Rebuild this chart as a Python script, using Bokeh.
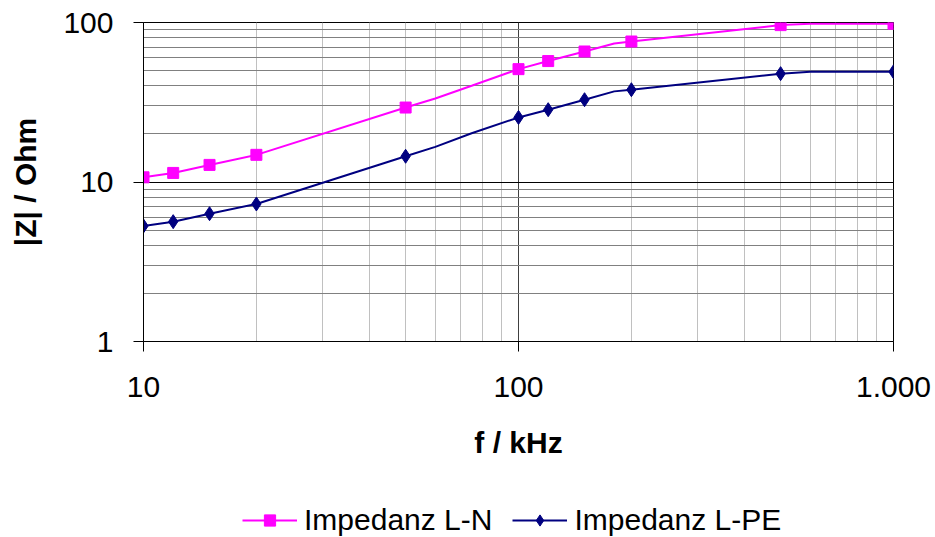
from bokeh.plotting import figure
from bokeh.layouts import column
from bokeh.models import Range1d, FixedTicker, Legend, LegendItem
from bokeh.embed import file_html
from bokeh.resources import INLINE

# ---- data ----
freq_khz = [10, 12, 15, 20, 50, 60, 75, 100, 120, 150, 180, 200, 500, 600, 1000]
z_ln = [10.7, 11.4, 12.8, 14.8, 29.3, 33.4, 40.1, 51.0, 57.3, 65.8, 73.8, 76.0, 96.3, 98.2, 98.2]
z_lpe = [5.3, 5.64, 6.33, 7.28, 14.5, 16.6, 20.2, 25.4, 28.4, 32.8, 37.0, 37.9, 47.8, 49.1, 49.1]
has_marker = [True, True, True, True, True, False, False, True, True, True, False, True, True, False, True]

series_names = ["Impedanz L-N", "Impedanz L-PE"]
x_ticks = [10, 100, 1000]
x_tick_labels = ["10", "100", "1.000"]
y_ticks = [1, 10, 100]
y_tick_labels = ["1", "10", "100"]
x_title = "f / kHz"
y_title = "|Z| / Ohm"

x_minor = [m * d for d in (10, 100) for m in range(2, 10)]
y_minor = [m * d for d in (1, 10) for m in range(2, 10)]

FONT = "Liberation Sans"
C_LN = "#FF00FF"
C_LPE = "#000080"
MAIN_H = 477
LEG_H = 537 - MAIN_H

p = figure(width=935, height=MAIN_H, x_axis_type="log", y_axis_type="log",
           x_range=Range1d(10, 1000), y_range=Range1d(1, 100),
           output_backend="svg", toolbar_location=None,
           min_border_left=143, min_border_right=42,
           min_border_top=22, min_border_bottom=MAIN_H - 341)
p.background_fill_color = "white"
p.border_fill_color = "white"
p.outline_line_color = "black"
p.outline_line_width = 1

xt = FixedTicker(ticks=x_ticks, minor_ticks=x_minor)
yt = FixedTicker(ticks=y_ticks, minor_ticks=y_minor)
p.xaxis.ticker = xt
p.yaxis.ticker = yt
p.xgrid.ticker = xt
p.ygrid.ticker = yt
p.xaxis.major_label_overrides = {t: l for t, l in zip(x_ticks, x_tick_labels)}
p.yaxis.major_label_overrides = {t: l for t, l in zip(y_ticks, y_tick_labels)}

for ax in (p.xaxis, p.yaxis):
    ax.axis_line_color = "black"
    ax.axis_line_width = 1
    ax.major_tick_line_color = "black"
    ax.major_tick_out = 10
    ax.major_tick_in = 0
    ax.minor_tick_out = 0
    ax.minor_tick_in = 0
    ax.major_label_text_font = FONT
    ax.major_label_text_font_size = "30px"
    ax.major_label_text_color = "black"
    ax.axis_label_text_font = FONT
    ax.axis_label_text_font_size = "30px"
    ax.axis_label_text_font_style = "bold"
    ax.axis_label_text_color = "black"

p.xaxis.axis_label = x_title
p.yaxis.axis_label = y_title
p.xaxis.major_label_standoff = 25
p.yaxis.major_label_standoff = 20
p.xaxis.axis_label_standoff = 26
p.yaxis.axis_label_standoff = 18

p.xgrid.grid_line_color = "#404040"
p.xgrid.minor_grid_line_color = "#c0c0c0"
p.ygrid.grid_line_color = "black"
p.ygrid.minor_grid_line_color = "#808080"

mx = [f for f, m in zip(freq_khz, has_marker) if m]
m_ln = [v for v, m in zip(z_ln, has_marker) if m]
m_lpe = [v for v, m in zip(z_lpe, has_marker) if m]

LN_LINE = dict(line_color=C_LN, line_width=2)
LN_MARK = dict(marker="square", size=11, fill_color=C_LN, line_color=C_LN)
LPE_LINE = dict(line_color=C_LPE, line_width=2)
LPE_MARK = dict(marker="diamond", size=14, fill_color=C_LPE, line_color=C_LPE)

p.line(freq_khz, z_ln, **LN_LINE)
p.scatter(mx, m_ln, **LN_MARK)
p.line(freq_khz, z_lpe, **LPE_LINE)
p.scatter(mx, m_lpe, **LPE_MARK)

# ---- legend strip below the chart (frames are aligned by the column) ----
q = figure(width=935, height=LEG_H, x_range=Range1d(0, 1), y_range=Range1d(0, 1),
           output_backend="svg", toolbar_location=None,
           x_axis_location=None, y_axis_location=None,
           min_border_left=143, min_border_right=42, min_border_top=0, min_border_bottom=0)
q.grid.visible = False
q.outline_line_color = None
q.background_fill_color = "white"
q.border_fill_color = "white"
nan = float("nan")
k1 = q.line([nan], [nan], **LN_LINE)
k2 = q.scatter([nan], [nan], **LN_MARK)
k3 = q.line([nan], [nan], **LPE_LINE)
k4 = q.scatter([nan], [nan], **LPE_MARK)

legend = Legend(items=[LegendItem(label=series_names[0], renderers=[k1, k2]),
                       LegendItem(label=series_names[1], renderers=[k3, k4])],
                orientation="horizontal", location=(99, 0),
                padding=0, margin=0, spacing=20, label_standoff=7,
                glyph_width=55, glyph_height=28,
                border_line_color=None, background_fill_alpha=0,
                label_text_font=FONT, label_text_font_size="30px",
                label_text_color="black")
q.add_layout(legend)

open("out.html", "w").write(file_html(column(p, q, spacing=0), INLINE))
